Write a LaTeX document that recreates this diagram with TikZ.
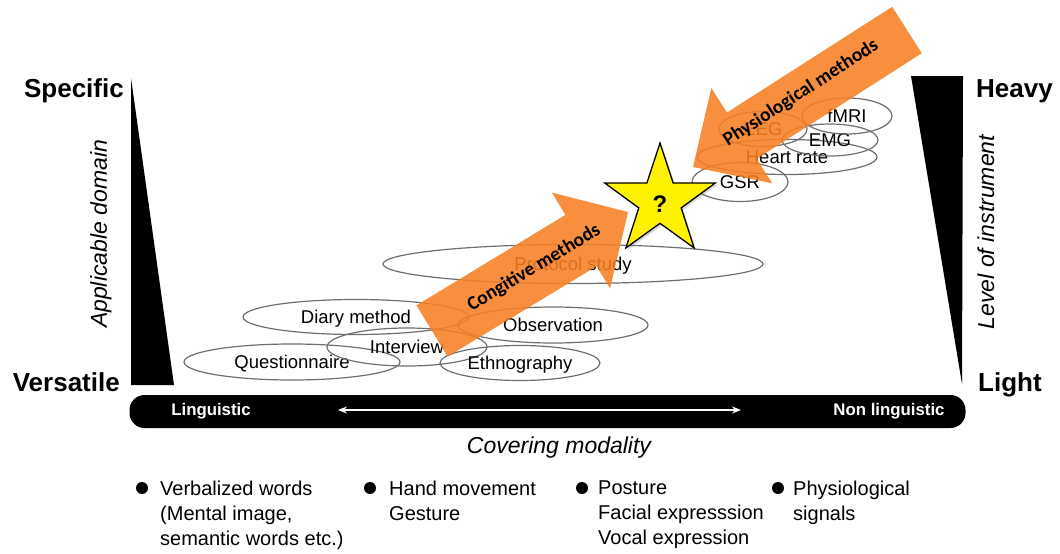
\documentclass[tikz,border=0pt]{standalone}
\usepackage{fontspec}
\setmainfont{Liberation Sans}
\newfontfamily\calib{Carlito}
\usetikzlibrary{shapes.geometric,arrows.meta,shadows}
\definecolor{arroworange}{RGB}{247,127,35}
\definecolor{ellgray}{RGB}{110,110,110}
\newcommand{\myfs}[2]{\fontsize{#1}{#2}\selectfont}
\begin{document}
\begin{tikzpicture}[x=1pt,y=-1pt,
  meth/.style={ellipse, draw=ellgray, line width=1.2pt, inner sep=0pt, font=\myfs{18.5}{22},
    text height=13.5pt, text depth=0pt},
  endlabel/.style={font=\myfs{26}{30}\bfseries, inner sep=0pt},
  axislabel/.style={font=\myfs{23}{26}\itshape, inner sep=0pt},
  barlabel/.style={font=\myfs{16.8}{19}\bfseries, text=white, inner sep=0pt},
  arrowtext/.style={font=\calib\myfs{19.5}{22}\bfseries, inner sep=0pt},
  bulletdot/.style={circle, fill=black, minimum size=12pt, inner sep=0pt},
  bullettext/.style={font=\myfs{20}{25}, align=left, anchor=north west, inner sep=0pt},
  methodarrow/.style={fill=arroworange, fill opacity=0.88}
]
\useasboundingbox (0,0) rectangle (1060,554);

% side wedges
\fill (131,78) -- (131,385) -- (174,385) -- cycle;
\fill (911,76) -- (963,76) -- (962,384) -- cycle;

\node[endlabel, anchor=base east] (spec) at (124,97) {Specific};
\node[endlabel, anchor=base east] (vers) at (120,391) {Versatile};
\node[endlabel, anchor=base west] (heavy) at (976,97) {Heavy};
\node[endlabel, anchor=base west] (light) at (978,391) {Light};
\node[axislabel, rotate=90] (appl) at (101,234) {Applicable domain};
\node[axislabel, rotate=90] (lvl) at (986,232) {Level of instrument};

% method ellipses
\node[meth, minimum width=216pt, minimum height=36pt] (quest) at (292,362) {Questionnaire};
\node[meth, minimum width=226pt, minimum height=35pt] (diary) at (356,317) {Diary method};
\node[meth, minimum width=160pt, minimum height=38pt] (interv) at (407,347) {Interview};
\node[meth, minimum width=190pt, minimum height=36pt] (obs) at (553,325) {Observation};
\node[meth, minimum width=160pt, minimum height=35pt] (ethno) at (520,363) {Ethnography};
\node[meth, minimum width=380pt, minimum height=39pt] (proto) at (573,264) {Protocol study};
\node[meth, minimum width=96pt, minimum height=39pt] (gsr) at (740,182) {GSR};
\node[meth, minimum width=180pt, minimum height=35pt] (heart) at (787,157) {Heart rate};
\node[meth, minimum width=88pt, minimum height=35pt] (eeg) at (763,129) {EEG};
\node[meth, minimum width=96pt, minimum height=32pt] (emg) at (830,140) {EMG};
\node[meth, minimum width=90pt, minimum height=36pt] (fmri) at (847,116) {fMRI};

% orange arrows
\path[methodarrow] (447.6,356.6) -- (596.6,266.2) -- (610.1,288.4) -- (628,212)
  -- (551.9,192.6) -- (565.4,214.9) -- (416.4,305.4) -- cycle;
\path[methodarrow] (921.8,53.2) -- (756.6,158.9) -- (772.3,183.3) -- (693,167)
  -- (711.3,88.1) -- (727,112.5) -- (892.2,6.8) -- cycle;
\node[arrowtext, rotate=31] (cogtxt) at (534,268) {Congitive methods};
\node[arrowtext, rotate=33] (phytxt) at (801,93) {Physiological methods};

% star
\node[star, star points=5, star point ratio=2.6, minimum size=116pt, inner sep=0pt,
  fill=yellow, draw=black, line width=1.3pt,
  drop shadow={shadow xshift=2pt, shadow yshift=-2pt, opacity=0.3}] (star) at (660,201) {};
\node[font=\myfs{24}{26}\bfseries, inner sep=0pt] (qm) at (660,204) {?};

% modality bar
\node[fill=black, rounded corners=15pt, minimum width=836pt, minimum height=33pt, inner sep=0pt] (bar) at (547.5,411.5) {};
\node[barlabel, anchor=base] (ling) at (211,415) {Linguistic};
\node[barlabel, anchor=base] (nonling) at (889,415) {Non linguistic};
\coordinate (la) at (338,410);
\coordinate (ra) at (741,410);
\draw[white, line width=1.3pt, {Stealth[length=9pt,width=7pt]}-{Stealth[length=9pt,width=7pt]}] (la) -- (ra);
\node[axislabel] (cov) at (559,448) {Covering modality};

% bullets
\node[bulletdot] (b1) at (142,488) {};
\node[bullettext] (t1) at (160,480.5) {Verbalized words\\(Mental image,\\semantic words etc.)};
\node[bulletdot] (b2) at (370,488) {};
\node[bullettext] (t2) at (389,480.5) {Hand movement\\Gesture};
\node[bulletdot] (b3) at (582,488) {};
\node[bullettext] (t3) at (598,480.5) {Posture\\Facial expresssion\\Vocal expression};
\node[bulletdot] (b4) at (778,488) {};
\node[bullettext] (t4) at (793,480.5) {Physiological\\signals};
\end{tikzpicture}
\end{document}
